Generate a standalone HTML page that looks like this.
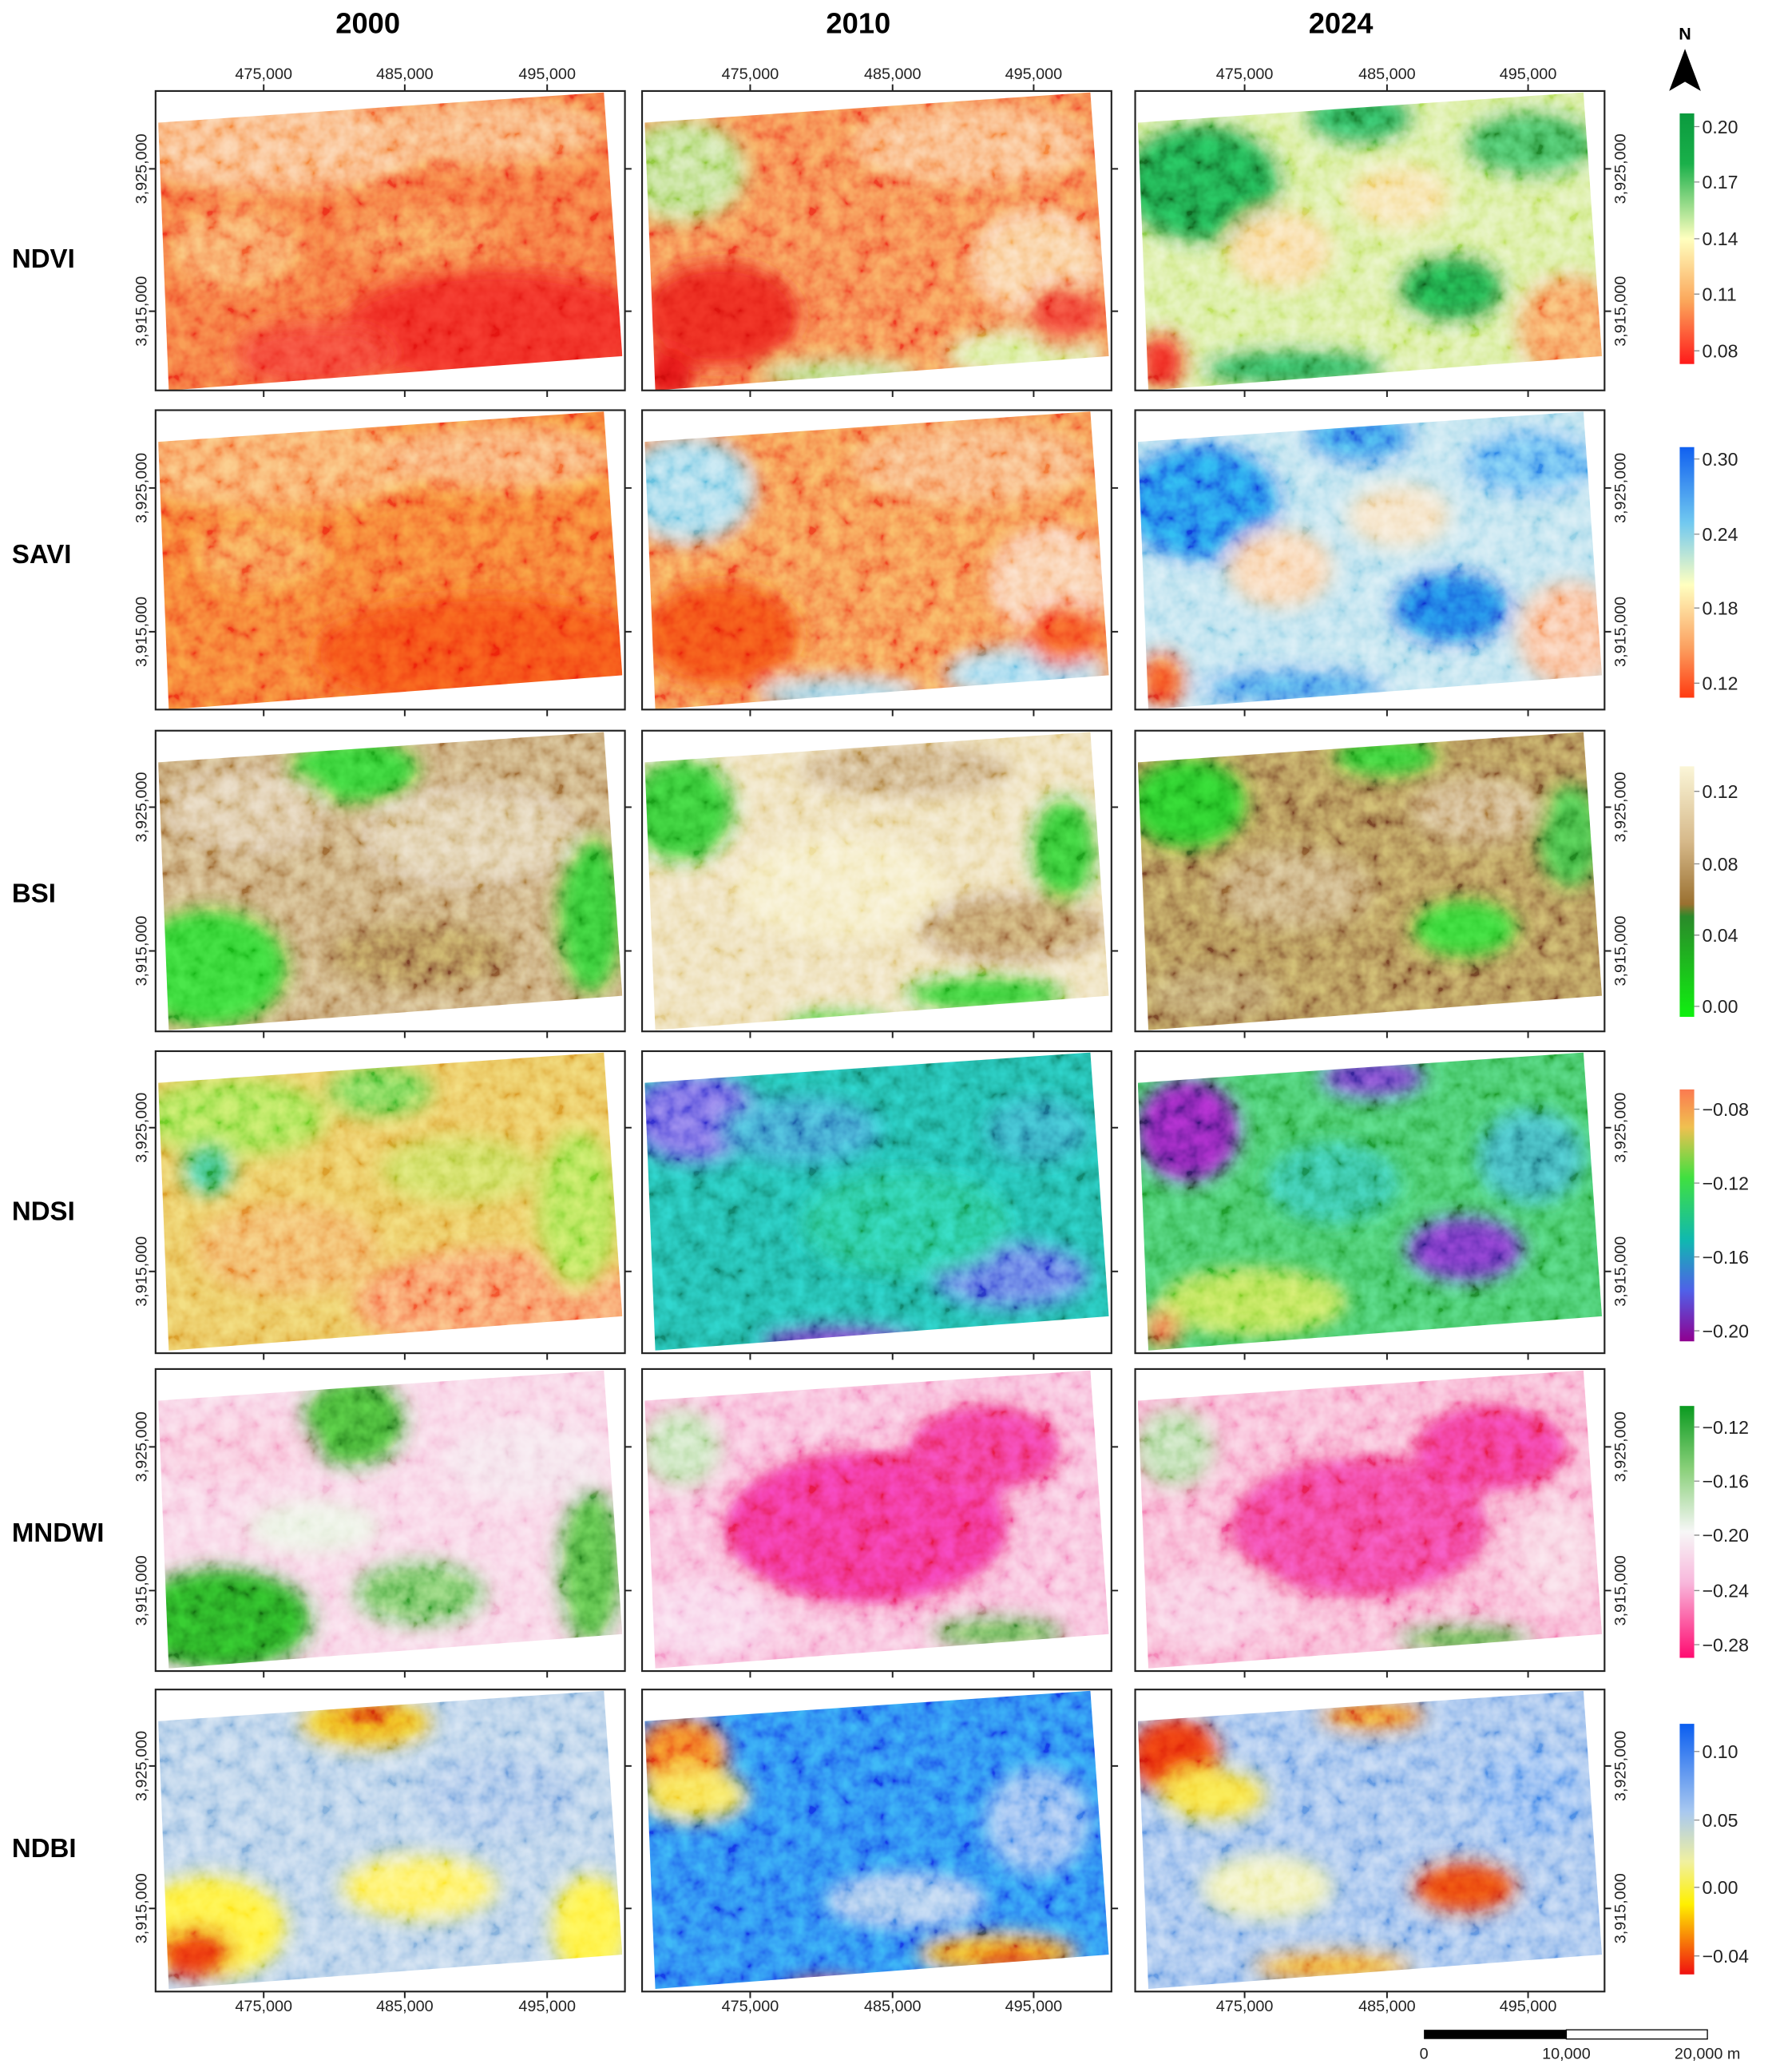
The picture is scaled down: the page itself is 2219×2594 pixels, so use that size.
<!DOCTYPE html>
<html><head><meta charset="utf-8"><style>
html,body{margin:0;padding:0;background:#fff;}
svg{display:block;font-family:"Liberation Sans",Arial,sans-serif;}
.nz{mix-blend-mode:overlay;}
</style></head><body>
<svg width="2219" height="2594" viewBox="0 0 1344 1571" preserveAspectRatio="none" xmlns="http://www.w3.org/2000/svg">
<defs>
<clipPath id="q"><polygon points="2,24 340,1 354,201 10,227"/></clipPath>
<filter id="b" x="-20%" y="-20%" width="140%" height="140%"><feGaussianBlur stdDeviation="7"/></filter>
<filter id="n" x="0" y="0" width="100%" height="100%"><feTurbulence type="fractalNoise" baseFrequency="0.08" numOctaves="3" seed="4"/><feColorMatrix type="matrix" values="1.6 0 0 0 -0.3  1.6 0 0 0 -0.3  1.6 0 0 0 -0.3  0 0 0 0 1"/></filter>
<linearGradient id="g1" x1="0" y1="0" x2="0" y2="1"><stop offset="0" stop-color="#0a9a3e"/><stop offset="0.2" stop-color="#1ab04a"/><stop offset="0.5" stop-color="#ffffbf"/><stop offset="0.75" stop-color="#fba65a"/><stop offset="1" stop-color="#ff1a1a"/></linearGradient>
<linearGradient id="g2" x1="0" y1="0" x2="0" y2="1"><stop offset="0" stop-color="#1060f0"/><stop offset="0.3" stop-color="#70c8f0"/><stop offset="0.55" stop-color="#ffffc0"/><stop offset="0.8" stop-color="#fba060"/><stop offset="1" stop-color="#ff3a10"/></linearGradient>
<linearGradient id="g3" x1="0" y1="0" x2="0" y2="1"><stop offset="0" stop-color="#fbf6d8"/><stop offset="0.3" stop-color="#d6b98a"/><stop offset="0.55" stop-color="#9a7030"/><stop offset="0.6" stop-color="#2a8a2a"/><stop offset="1" stop-color="#10f010"/></linearGradient>
<linearGradient id="g4" x1="0" y1="0" x2="0" y2="1"><stop offset="0" stop-color="#fb7a50"/><stop offset="0.15" stop-color="#f0c050"/><stop offset="0.35" stop-color="#40e040"/><stop offset="0.6" stop-color="#10b8b0"/><stop offset="0.8" stop-color="#5060e8"/><stop offset="1" stop-color="#900090"/></linearGradient>
<linearGradient id="g5" x1="0" y1="0" x2="0" y2="1"><stop offset="0" stop-color="#0a9a20"/><stop offset="0.25" stop-color="#8ad07a"/><stop offset="0.5" stop-color="#f7f7f7"/><stop offset="0.7" stop-color="#f8b8dc"/><stop offset="1" stop-color="#ff0a70"/></linearGradient>
<linearGradient id="g6" x1="0" y1="0" x2="0" y2="1"><stop offset="0" stop-color="#0a5ef0"/><stop offset="0.35" stop-color="#a8c8f0"/><stop offset="0.55" stop-color="#f0f0a0"/><stop offset="0.72" stop-color="#fff000"/><stop offset="1" stop-color="#f01010"/></linearGradient>
</defs>

<g font-weight="bold" font-size="22" text-anchor="middle">
<text x="279" y="25">2000</text><text x="651" y="25">2010</text><text x="1017" y="25">2024</text>
</g>
<g font-weight="bold" font-size="20">
<text x="9" y="203">NDVI</text><text x="9" y="427">SAVI</text><text x="9" y="684">BSI</text>
<text x="9" y="925">NDSI</text><text x="9" y="1169">MNDWI</text><text x="9" y="1408">NDBI</text>
</g>

<g font-size="12" text-anchor="middle" fill="#222">
<text x="200" y="60">475,000</text><text x="307" y="60">485,000</text><text x="415" y="60">495,000</text>
<text x="569" y="60">475,000</text><text x="677" y="60">485,000</text><text x="784" y="60">495,000</text>
<text x="944" y="60">475,000</text><text x="1052" y="60">485,000</text><text x="1159" y="60">495,000</text>
<text x="200" y="1525">475,000</text><text x="307" y="1525">485,000</text><text x="415" y="1525">495,000</text>
<text x="569" y="1525">475,000</text><text x="677" y="1525">485,000</text><text x="784" y="1525">495,000</text>
<text x="944" y="1525">475,000</text><text x="1052" y="1525">485,000</text><text x="1159" y="1525">495,000</text>
</g>

<!-- Row1 NDVI -->
<g transform="translate(118,69)"><g clip-path="url(#q)" style="isolation:isolate"><rect width="356" height="227" fill="#f46a3a"/><g filter="url(#b)">
<ellipse cx="90" cy="40" rx="120" ry="35" fill="#f9b27a"/><ellipse cx="250" cy="30" rx="90" ry="25" fill="#f8a870"/><ellipse cx="260" cy="180" rx="120" ry="45" fill="#ee2a22"/><ellipse cx="120" cy="200" rx="60" ry="25" fill="#f24030"/><ellipse cx="60" cy="120" rx="50" ry="30" fill="#f7955a"/><ellipse cx="200" cy="110" rx="60" ry="20" fill="#f5804a"/></g><rect class="nz" width="356" height="227" filter="url(#n)" opacity="0.5"/></g></g>
<g transform="translate(487,69)"><g clip-path="url(#q)" style="isolation:isolate"><rect width="356" height="227" fill="#f57a48"/><g filter="url(#b)">
<ellipse cx="30" cy="60" rx="50" ry="40" fill="#b8dc80"/><ellipse cx="60" cy="170" rx="60" ry="40" fill="#e8281e"/><ellipse cx="20" cy="215" rx="20" ry="20" fill="#e01818"/><ellipse cx="250" cy="40" rx="90" ry="30" fill="#f9b078"/><ellipse cx="300" cy="130" rx="50" ry="40" fill="#f9c890"/><ellipse cx="290" cy="200" rx="60" ry="20" fill="#d8ec9a"/><ellipse cx="150" cy="215" rx="60" ry="12" fill="#b8e088"/><ellipse cx="320" cy="170" rx="30" ry="25" fill="#ee4030"/></g><rect class="nz" width="356" height="227" filter="url(#n)" opacity="0.5"/></g></g>
<g transform="translate(861,69)"><g clip-path="url(#q)" style="isolation:isolate"><rect width="356" height="227" fill="#d6ec96"/><g filter="url(#b)">
<ellipse cx="50" cy="70" rx="60" ry="45" fill="#1a9a45"/><ellipse cx="170" cy="20" rx="40" ry="20" fill="#2aa552"/><ellipse cx="300" cy="40" rx="50" ry="25" fill="#40b058"/><ellipse cx="240" cy="150" rx="40" ry="25" fill="#1a9641"/><ellipse cx="120" cy="210" rx="70" ry="14" fill="#2aa552"/><ellipse cx="330" cy="180" rx="40" ry="40" fill="#f6985a"/><ellipse cx="20" cy="205" rx="18" ry="22" fill="#ee2a20"/><ellipse cx="110" cy="120" rx="40" ry="30" fill="#f8d898"/><ellipse cx="200" cy="80" rx="40" ry="25" fill="#f6e0a0"/></g><rect class="nz" width="356" height="227" filter="url(#n)" opacity="0.5"/></g></g>

<!-- Row2 SAVI -->
<g transform="translate(118,311)"><g clip-path="url(#q)" style="isolation:isolate"><rect width="356" height="227" fill="#f57030"/><g filter="url(#b)">
<ellipse cx="90" cy="40" rx="120" ry="35" fill="#f8a060"/><ellipse cx="260" cy="35" rx="90" ry="25" fill="#f8a068"/><ellipse cx="250" cy="185" rx="130" ry="45" fill="#f44a15"/><ellipse cx="80" cy="110" rx="50" ry="25" fill="#f68a48"/></g><rect class="nz" width="356" height="227" filter="url(#n)" opacity="0.5"/></g></g>
<g transform="translate(487,311)"><g clip-path="url(#q)" style="isolation:isolate"><rect width="356" height="227" fill="#f5864a"/><g filter="url(#b)">
<ellipse cx="35" cy="60" rx="50" ry="40" fill="#9ad6ea"/><ellipse cx="60" cy="170" rx="60" ry="40" fill="#f24a18"/><ellipse cx="250" cy="40" rx="90" ry="30" fill="#f7a870"/><ellipse cx="310" cy="130" rx="45" ry="40" fill="#f9c8a0"/><ellipse cx="290" cy="200" rx="60" ry="20" fill="#a0d8ee"/><ellipse cx="150" cy="215" rx="60" ry="12" fill="#a0d8ee"/><ellipse cx="320" cy="170" rx="30" ry="25" fill="#f45020"/></g><rect class="nz" width="356" height="227" filter="url(#n)" opacity="0.5"/></g></g>
<g transform="translate(861,311)"><g clip-path="url(#q)" style="isolation:isolate"><rect width="356" height="227" fill="#b8e0ee"/><g filter="url(#b)">
<ellipse cx="50" cy="70" rx="60" ry="45" fill="#2080e8"/><ellipse cx="170" cy="20" rx="40" ry="20" fill="#3a90e8"/><ellipse cx="300" cy="40" rx="50" ry="25" fill="#60b0f0"/><ellipse cx="240" cy="150" rx="45" ry="28" fill="#1a6ee0"/><ellipse cx="120" cy="210" rx="70" ry="14" fill="#4a9ae8"/><ellipse cx="330" cy="170" rx="40" ry="40" fill="#f9b890"/><ellipse cx="20" cy="205" rx="18" ry="22" fill="#f45020"/><ellipse cx="110" cy="120" rx="40" ry="30" fill="#f8d0a8"/><ellipse cx="200" cy="80" rx="40" ry="25" fill="#f4e0c0"/></g><rect class="nz" width="356" height="227" filter="url(#n)" opacity="0.5"/></g></g>

<!-- Row3 BSI -->
<g transform="translate(118,554)"><g clip-path="url(#q)" style="isolation:isolate"><rect width="356" height="227" fill="#c2a070"/><g filter="url(#b)">
<ellipse cx="150" cy="30" rx="50" ry="25" fill="#30c830"/><ellipse cx="40" cy="180" rx="60" ry="45" fill="#30d030"/><ellipse cx="330" cy="140" rx="25" ry="60" fill="#30c030"/><ellipse cx="70" cy="60" rx="60" ry="30" fill="#d8c098"/><ellipse cx="240" cy="80" rx="80" ry="35" fill="#dcc8a0"/><ellipse cx="200" cy="170" rx="70" ry="25" fill="#a88050"/></g><rect class="nz" width="356" height="227" filter="url(#n)" opacity="0.5"/></g></g>
<g transform="translate(487,554)"><g clip-path="url(#q)" style="isolation:isolate"><rect width="356" height="227" fill="#ecdcb0"/><g filter="url(#b)">
<ellipse cx="30" cy="60" rx="40" ry="40" fill="#30c030"/><ellipse cx="320" cy="90" rx="25" ry="40" fill="#30c030"/><ellipse cx="260" cy="200" rx="60" ry="14" fill="#30c830"/><ellipse cx="150" cy="222" rx="40" ry="8" fill="#30d030"/><ellipse cx="280" cy="150" rx="70" ry="25" fill="#b89060"/><ellipse cx="200" cy="30" rx="80" ry="20" fill="#c8a878"/><ellipse cx="150" cy="120" rx="80" ry="40" fill="#f4eac0"/></g><rect class="nz" width="356" height="227" filter="url(#n)" opacity="0.5"/></g></g>
<g transform="translate(861,554)"><g clip-path="url(#q)" style="isolation:isolate"><rect width="356" height="227" fill="#a88450"/><g filter="url(#b)">
<ellipse cx="40" cy="55" rx="45" ry="35" fill="#28c028"/><ellipse cx="190" cy="20" rx="40" ry="15" fill="#30c830"/><ellipse cx="250" cy="150" rx="40" ry="22" fill="#30d030"/><ellipse cx="330" cy="80" rx="25" ry="40" fill="#40b040"/><ellipse cx="120" cy="120" rx="60" ry="30" fill="#c0a070"/><ellipse cx="260" cy="60" rx="50" ry="25" fill="#c8a878"/><ellipse cx="60" cy="200" rx="50" ry="20" fill="#b09060"/></g><rect class="nz" width="356" height="227" filter="url(#n)" opacity="0.5"/></g></g>

<!-- Row4 NDSI -->
<g transform="translate(118,797)"><g clip-path="url(#q)" style="isolation:isolate"><rect width="356" height="229" fill="#e8c058"/><g filter="url(#b)">
<ellipse cx="60" cy="50" rx="70" ry="30" fill="#a0e050"/><ellipse cx="170" cy="30" rx="40" ry="20" fill="#70d050"/><ellipse cx="260" cy="190" rx="110" ry="40" fill="#f89060"/><ellipse cx="320" cy="120" rx="30" ry="60" fill="#a8e050"/><ellipse cx="100" cy="150" rx="70" ry="35" fill="#f0b060"/><ellipse cx="40" cy="90" rx="20" ry="20" fill="#40c080"/><ellipse cx="230" cy="90" rx="60" ry="25" fill="#c8d858"/></g><rect class="nz" width="356" height="229" filter="url(#n)" opacity="0.5"/></g></g>
<g transform="translate(487,797)"><g clip-path="url(#q)" style="isolation:isolate"><rect width="356" height="229" fill="#20b0a0"/><g filter="url(#b)">
<ellipse cx="40" cy="50" rx="50" ry="35" fill="#6a60e0"/><ellipse cx="120" cy="60" rx="60" ry="25" fill="#3a98c8"/><ellipse cx="280" cy="170" rx="60" ry="25" fill="#5a70e0"/><ellipse cx="150" cy="220" rx="60" ry="12" fill="#7040c0"/><ellipse cx="200" cy="130" rx="80" ry="40" fill="#28c090"/><ellipse cx="300" cy="60" rx="40" ry="25" fill="#30a0b8"/></g><rect class="nz" width="356" height="229" filter="url(#n)" opacity="0.5"/></g></g>
<g transform="translate(861,797)"><g clip-path="url(#q)" style="isolation:isolate"><rect width="356" height="229" fill="#40c060"/><g filter="url(#b)">
<ellipse cx="40" cy="60" rx="40" ry="40" fill="#7a20a8"/><ellipse cx="180" cy="20" rx="40" ry="16" fill="#6a40c0"/><ellipse cx="250" cy="150" rx="45" ry="25" fill="#6a30b8"/><ellipse cx="90" cy="190" rx="70" ry="25" fill="#b0e050"/><ellipse cx="300" cy="80" rx="40" ry="35" fill="#3aa8b0"/><ellipse cx="20" cy="210" rx="15" ry="15" fill="#f08050"/><ellipse cx="150" cy="100" rx="50" ry="30" fill="#30b890"/></g><rect class="nz" width="356" height="229" filter="url(#n)" opacity="0.5"/></g></g>

<!-- Row5 MNDWI -->
<g transform="translate(118,1038)"><g clip-path="url(#q)" style="isolation:isolate"><rect width="356" height="229" fill="#f8d0e4"/><g filter="url(#b)">
<ellipse cx="150" cy="40" rx="40" ry="35" fill="#40a830"/><ellipse cx="50" cy="190" rx="70" ry="40" fill="#28a020"/><ellipse cx="200" cy="170" rx="50" ry="25" fill="#70c060"/><ellipse cx="330" cy="150" rx="25" ry="60" fill="#50b040"/><ellipse cx="60" cy="60" rx="60" ry="25" fill="#f8c0d8"/><ellipse cx="280" cy="70" rx="60" ry="30" fill="#f4e0ea"/><ellipse cx="120" cy="120" rx="50" ry="20" fill="#e8f0e0"/></g><rect class="nz" width="356" height="229" filter="url(#n)" opacity="0.5"/></g></g>
<g transform="translate(487,1038)"><g clip-path="url(#q)" style="isolation:isolate"><rect width="356" height="229" fill="#f8b8d8"/><g filter="url(#b)">
<ellipse cx="170" cy="120" rx="110" ry="60" fill="#f03088"/><ellipse cx="260" cy="60" rx="60" ry="35" fill="#f03888"/><ellipse cx="30" cy="60" rx="30" ry="30" fill="#c0e0b0"/><ellipse cx="270" cy="200" rx="50" ry="12" fill="#60b050"/><ellipse cx="50" cy="190" rx="50" ry="30" fill="#f8d0e8"/></g><rect class="nz" width="356" height="229" filter="url(#n)" opacity="0.5"/></g></g>
<g transform="translate(861,1038)"><g clip-path="url(#q)" style="isolation:isolate"><rect width="356" height="229" fill="#f8b0d0"/><g filter="url(#b)">
<ellipse cx="170" cy="120" rx="100" ry="55" fill="#f04090"/><ellipse cx="270" cy="60" rx="60" ry="35" fill="#f03888"/><ellipse cx="30" cy="60" rx="30" ry="30" fill="#b0d8a0"/><ellipse cx="250" cy="205" rx="50" ry="10" fill="#50a840"/><ellipse cx="60" cy="180" rx="50" ry="30" fill="#f8c8e0"/><ellipse cx="320" cy="140" rx="30" ry="40" fill="#f8d0e0"/></g><rect class="nz" width="356" height="229" filter="url(#n)" opacity="0.5"/></g></g>

<!-- Row6 NDBI -->
<g transform="translate(118,1281)"><g clip-path="url(#q)" style="isolation:isolate"><rect width="356" height="229" fill="#b0cce8"/><g filter="url(#b)">
<ellipse cx="160" cy="25" rx="50" ry="20" fill="#f0c020"/><ellipse cx="160" cy="20" rx="25" ry="10" fill="#e03010"/><ellipse cx="40" cy="180" rx="60" ry="40" fill="#fff040"/><ellipse cx="30" cy="200" rx="30" ry="20" fill="#e83010"/><ellipse cx="200" cy="150" rx="60" ry="25" fill="#fff060"/><ellipse cx="330" cy="180" rx="30" ry="40" fill="#fff040"/><ellipse cx="260" cy="80" rx="60" ry="30" fill="#a0c0e8"/></g><rect class="nz" width="356" height="229" filter="url(#n)" opacity="0.5"/></g></g>
<g transform="translate(487,1281)"><g clip-path="url(#q)" style="isolation:isolate"><rect width="356" height="229" fill="#2a7cf0"/><g filter="url(#b)">
<ellipse cx="30" cy="50" rx="35" ry="30" fill="#f07020"/><ellipse cx="40" cy="80" rx="40" ry="20" fill="#f8e050"/><ellipse cx="270" cy="200" rx="60" ry="15" fill="#f0a020"/><ellipse cx="280" cy="205" rx="30" ry="8" fill="#e02010"/><ellipse cx="200" cy="160" rx="60" ry="20" fill="#a0c4ec"/><ellipse cx="140" cy="226" rx="30" ry="6" fill="#e02010"/><ellipse cx="300" cy="100" rx="40" ry="40" fill="#80b0f0"/></g><rect class="nz" width="356" height="229" filter="url(#n)" opacity="0.5"/></g></g>
<g transform="translate(861,1281)"><g clip-path="url(#q)" style="isolation:isolate"><rect width="356" height="229" fill="#98bcec"/><g filter="url(#b)">
<ellipse cx="30" cy="50" rx="35" ry="30" fill="#e83010"/><ellipse cx="60" cy="80" rx="40" ry="20" fill="#f8e040"/><ellipse cx="180" cy="20" rx="40" ry="12" fill="#f08020"/><ellipse cx="250" cy="150" rx="40" ry="20" fill="#e84010"/><ellipse cx="150" cy="210" rx="60" ry="12" fill="#f0a030"/><ellipse cx="300" cy="80" rx="40" ry="35" fill="#80b0f0"/><ellipse cx="100" cy="150" rx="50" ry="25" fill="#f0f0b0"/></g><rect class="nz" width="356" height="229" filter="url(#n)" opacity="0.5"/></g></g>

<g fill="none" stroke="#222" stroke-width="1.3">
<rect x="118" y="69" width="356" height="227"/><rect x="487" y="69" width="356" height="227"/><rect x="861" y="69" width="356" height="227"/>
<rect x="118" y="311" width="356" height="227"/><rect x="487" y="311" width="356" height="227"/><rect x="861" y="311" width="356" height="227"/>
<rect x="118" y="554" width="356" height="228"/><rect x="487" y="554" width="356" height="228"/><rect x="861" y="554" width="356" height="228"/>
<rect x="118" y="797" width="356" height="229"/><rect x="487" y="797" width="356" height="229"/><rect x="861" y="797" width="356" height="229"/>
<rect x="118" y="1038" width="356" height="229"/><rect x="487" y="1038" width="356" height="229"/><rect x="861" y="1038" width="356" height="229"/>
<rect x="118" y="1281" width="356" height="229"/><rect x="487" y="1281" width="356" height="229"/><rect x="861" y="1281" width="356" height="229"/>
</g>

<g stroke="#222" stroke-width="1.2">
<path d="M200 64v5M307 64v5M415 64v5M569 64v5M677 64v5M784 64v5M944 64v5M1052 64v5M1159 64v5"/>
<path d="M200 1510v5M307 1510v5M415 1510v5M569 1510v5M677 1510v5M784 1510v5M944 1510v5M1052 1510v5M1159 1510v5"/>
<path d="M200 296v5M307 296v5M415 296v5M569 296v5M677 296v5M784 296v5M944 296v5M1052 296v5M1159 296v5"/>
<path d="M200 538v5M307 538v5M415 538v5M569 538v5M677 538v5M784 538v5M944 538v5M1052 538v5M1159 538v5"/>
<path d="M200 782v5M307 782v5M415 782v5M569 782v5M677 782v5M784 782v5M944 782v5M1052 782v5M1159 782v5"/>
<path d="M200 1026v5M307 1026v5M415 1026v5M569 1026v5M677 1026v5M784 1026v5M944 1026v5M1052 1026v5M1159 1026v5"/>
<path d="M200 1267v5M307 1267v5M415 1267v5M569 1267v5M677 1267v5M784 1267v5M944 1267v5M1052 1267v5M1159 1267v5"/>
<path d="M113 128h5M113 236h5M113 370h5M113 479h5M113 612h5M113 721h5M113 855h5M113 964h5M113 1097h5M113 1206h5M113 1339h5M113 1447h5"/>
<path d="M474 128h5M474 236h5M474 370h5M474 479h5M474 612h5M474 721h5M474 855h5M474 964h5M474 1097h5M474 1206h5M474 1339h5M474 1447h5"/>
<path d="M843 128h5M843 236h5M843 370h5M843 479h5M843 612h5M843 721h5M843 855h5M843 964h5M843 1097h5M843 1206h5M843 1339h5M843 1447h5"/>
<path d="M1217 128h5M1217 236h5M1217 370h5M1217 479h5M1217 612h5M1217 721h5M1217 855h5M1217 964h5M1217 1097h5M1217 1206h5M1217 1339h5M1217 1447h5"/>
</g>
<g font-size="12" text-anchor="middle" fill="#222">
<text transform="translate(111,128) rotate(-90)">3,925,000</text><text transform="translate(111,236) rotate(-90)">3,915,000</text>
<text transform="translate(111,370) rotate(-90)">3,925,000</text><text transform="translate(111,479) rotate(-90)">3,915,000</text>
<text transform="translate(111,612) rotate(-90)">3,925,000</text><text transform="translate(111,721) rotate(-90)">3,915,000</text>
<text transform="translate(111,855) rotate(-90)">3,925,000</text><text transform="translate(111,964) rotate(-90)">3,915,000</text>
<text transform="translate(111,1097) rotate(-90)">3,925,000</text><text transform="translate(111,1206) rotate(-90)">3,915,000</text>
<text transform="translate(111,1339) rotate(-90)">3,925,000</text><text transform="translate(111,1447) rotate(-90)">3,915,000</text>
<text transform="translate(1233,128) rotate(-90)">3,925,000</text><text transform="translate(1233,236) rotate(-90)">3,915,000</text>
<text transform="translate(1233,370) rotate(-90)">3,925,000</text><text transform="translate(1233,479) rotate(-90)">3,915,000</text>
<text transform="translate(1233,612) rotate(-90)">3,925,000</text><text transform="translate(1233,721) rotate(-90)">3,915,000</text>
<text transform="translate(1233,855) rotate(-90)">3,925,000</text><text transform="translate(1233,964) rotate(-90)">3,915,000</text>
<text transform="translate(1233,1097) rotate(-90)">3,925,000</text><text transform="translate(1233,1206) rotate(-90)">3,915,000</text>
<text transform="translate(1233,1339) rotate(-90)">3,925,000</text><text transform="translate(1233,1447) rotate(-90)">3,915,000</text>
</g>

<text x="1278" y="30" font-size="13" font-weight="bold" text-anchor="middle">N</text>
<polygon points="1278,37 1266,69 1278,62 1290,69" fill="#000"/>

<rect x="1274" y="86" width="11" height="190" fill="url(#g1)"/>
<rect x="1274" y="339" width="11" height="190" fill="url(#g2)"/>
<rect x="1274" y="581" width="11" height="190" fill="url(#g3)"/>
<rect x="1274" y="826" width="11" height="191" fill="url(#g4)"/>
<rect x="1274" y="1066" width="11" height="191" fill="url(#g5)"/>
<rect x="1274" y="1307" width="11" height="190" fill="url(#g6)"/>
<g stroke="#888" stroke-width="0.8">
<path d="M1285 96h4M1285 138h4M1285 181h4M1285 223h4M1285 266h4M1285 348h4M1285 405h4M1285 461h4M1285 518h4M1285 600h4M1285 655h4M1285 709h4M1285 763h4M1285 841h4M1285 897h4M1285 953h4M1285 1009h4M1285 1082h4M1285 1123h4M1285 1164h4M1285 1206h4M1285 1247h4M1285 1328h4M1285 1380h4M1285 1431h4M1285 1483h4"/>
</g>
<g font-size="14" fill="#222">
<text x="1291" y="101">0.20</text><text x="1291" y="143">0.17</text><text x="1291" y="186">0.14</text><text x="1291" y="228">0.11</text><text x="1291" y="271">0.08</text>
<text x="1291" y="353">0.30</text><text x="1291" y="410">0.24</text><text x="1291" y="466">0.18</text><text x="1291" y="523">0.12</text>
<text x="1291" y="605">0.12</text><text x="1291" y="660">0.08</text><text x="1291" y="714">0.04</text><text x="1291" y="768">0.00</text>
<text x="1291" y="846">−0.08</text><text x="1291" y="902">−0.12</text><text x="1291" y="958">−0.16</text><text x="1291" y="1014">−0.20</text>
<text x="1291" y="1087">−0.12</text><text x="1291" y="1128">−0.16</text><text x="1291" y="1169">−0.20</text><text x="1291" y="1211">−0.24</text><text x="1291" y="1252">−0.28</text>
<text x="1291" y="1333">0.10</text><text x="1291" y="1385">0.05</text><text x="1291" y="1436">0.00</text><text x="1291" y="1488">−0.04</text>
</g>

<rect x="1080" y="1539" width="108" height="7" fill="#000"/>
<rect x="1188" y="1539" width="107" height="7" fill="#fff" stroke="#000" stroke-width="0.8"/>
<g font-size="12" text-anchor="middle" fill="#222">
<text x="1080" y="1561">0</text><text x="1188" y="1561">10,000</text><text x="1295" y="1561">20,000 m</text>
</g>
</svg>
</body></html>
